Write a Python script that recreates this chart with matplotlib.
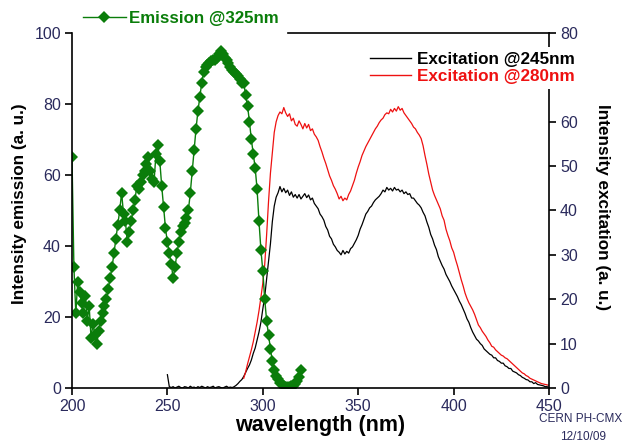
import numpy as np
import matplotlib
matplotlib.use("Agg")
import matplotlib.pyplot as plt
from matplotlib.lines import Line2D

plt.rcParams['font.family'] = ['Liberation Sans', 'DejaVu Sans']

# --- emission spectrum (left axis), excitation at 325 nm ---
em_wl = np.arange(200, 321, 1)
em_val = [65, 34, 21, 30, 27, 24, 21, 26, 19, 23,
          14, 18, 15, 12.5, 16, 19, 21, 23, 25, 28,
          31, 34, 38, 42, 46, 50, 55, 49, 47, 41,
          44, 47, 50, 53, 57, 56, 58, 60, 61, 63,
          65, 61, 59, 58, 66, 68.5, 64, 57, 51, 45,
          41, 38, 35, 31, 34, 38, 41, 44, 45.5, 46.5,
          48, 50, 55, 61, 67, 73, 78, 82, 86, 89,
          90.5, 91, 91.5, 92, 92.5, 92.5, 93, 94, 95, 94,
          93, 92.5, 91.5, 90.5, 89.5, 89, 88.5, 88, 87, 86,
          86, 82.5, 79.5, 75, 70, 66, 62, 56, 47, 39,
          33, 25, 19, 15, 11, 7.5, 5, 3.5, 2.5, 1.5,
          1, 0.6, 0.4, 0.3, 0.4, 0.5, 0.7, 1, 2, 3, 5]

# --- excitation spectrum monitored at 245 nm (right axis) ---
ex245_wl = np.arange(250, 451, 1)
ex245_val = [3.0, 0.3, 0.1, 0.3, 0.0, 0.2, 0.4, 0.1, 0.0, 0.3,
             0.2, 0.0, 0.4, 0.1, 0.2, 0.0, 0.3, 0.1, 0.4, 0.2,
             0.0, 0.3, 0.1, 0.2, 0.4, 0.0, 0.2, 0.3, 0.1, 0.0,
             0.2, 0.4, 0.1, 0.2, 0.1, 0.3, 0.6, 1.0, 1.5, 1.9,
             2.6, 3.5, 4.4, 5.2, 6.3, 7.8, 9.0, 10.8, 12.6, 14.8,
             17.8, 20.6, 24.5, 28.5, 32.5, 37.5, 41.0, 43.0, 44.0, 45.4,
             44.2, 45.0, 44.0, 44.6, 43.4, 44.2, 43.0, 43.6, 42.8, 43.6,
             42.6, 43.2, 43.8, 42.9, 43.5, 42.4, 42.8, 41.6, 41.0, 40.4,
             39.2, 38.6, 37.8, 36.4, 35.6, 34.2, 33.6, 32.4, 31.8, 31.0,
             30.6, 30.0, 31.0, 30.2, 30.8, 30.4, 31.4, 31.8, 32.6, 33.4,
             34.4, 35.8, 36.8, 38.0, 39.2, 39.8, 40.6, 41.0, 41.8, 42.4,
             42.8, 43.2, 43.8, 44.6, 44.2, 45.2, 44.6, 45.0, 44.4, 45.2,
             44.6, 44.8, 44.2, 44.6, 43.8, 44.2, 43.6, 43.8, 42.8, 42.8,
             42.2, 41.6, 41.2, 40.6, 39.6, 38.8, 37.4, 36.2, 34.6, 33.6,
             32.2, 31.2, 29.6, 28.6, 27.6, 26.8, 25.6, 24.8, 24.0, 23.0,
             22.2, 21.4, 20.6, 19.6, 18.8, 17.8, 16.8, 15.6, 14.8, 13.6,
             12.6, 11.8, 11.0, 10.6, 10.0, 9.6, 8.8, 8.4, 8.0, 7.6,
             7.4, 6.8, 6.8, 6.2, 6.0, 5.6, 5.6, 5.0, 4.8, 4.4,
             4.4, 3.8, 3.6, 3.4, 3.0, 2.8, 2.4, 2.2, 1.9, 1.8,
             1.4, 1.4, 1.0, 1.2, 0.8, 0.7, 0.6, 0.5, 0.3, 0.3, 0.1]

# --- excitation spectrum monitored at 280 nm (right axis) ---
ex280_wl = np.arange(290, 451, 1)
ex280_val = [2.2, 3.6, 5.4, 7.0, 8.6, 10.4, 12.6, 14.8, 17.4, 20.4,
             23.6, 27.8, 34.5, 42.0, 48.4, 53.0, 57.6, 60.0, 61.4, 62.2,
             61.8, 63.2, 62.0, 61.2, 61.8, 60.2, 60.8, 59.4, 59.0, 60.2,
             59.4, 58.4, 59.6, 58.6, 59.4, 58.0, 58.4, 57.2, 56.6, 55.8,
             54.4, 53.2, 51.8, 50.6, 49.2, 47.8, 46.8, 45.6, 44.8, 43.8,
             42.6, 43.2, 42.2, 42.8, 42.4, 43.6, 44.4, 45.6, 46.8, 48.4,
             49.8, 51.0, 52.4, 53.4, 54.4, 55.2, 56.0, 56.8, 57.6, 58.4,
             59.0, 59.8, 60.4, 60.8, 61.6, 62.0, 61.8, 62.8, 62.2, 63.0,
             62.4, 63.4, 62.6, 63.0, 62.0, 61.4, 60.8, 60.2, 59.6, 58.8,
             58.4, 57.6, 57.0, 56.2, 54.6, 52.4, 50.4, 48.2, 46.4, 44.6,
             43.4, 42.4, 41.4, 40.4, 38.8, 37.8, 35.8, 34.4, 33.2, 31.6,
             30.6, 29.0, 27.6, 26.0, 24.4, 23.0, 21.4, 20.2, 19.2, 18.4,
             17.6, 16.6, 15.4, 14.2, 13.6, 12.8, 12.2, 11.6, 10.8, 10.2,
             9.4, 9.2, 8.6, 8.2, 7.8, 7.4, 7.2, 6.8, 6.6, 6.2,
             5.8, 5.4, 5.0, 4.6, 4.2, 3.8, 3.4, 3.2, 2.8, 2.6,
             2.2, 2.0, 1.8, 1.6, 1.4, 1.2, 1.0, 0.9, 0.8, 0.7, 0.6]

# right-axis ticks; the 70 label sits under the legend in the original
right_ticks = [0, 10, 20, 30, 40, 50, 60, 70, 80]
right_labels = ['0', '10', '20', '30', '40', '50', '60', '', '80']

tick_color = '#2a2a5c'
green = '#0a7d0a'
red = '#ee1111'

fig = plt.figure(figsize=(6.25, 4.44), dpi=100)
ax = fig.add_axes([72 / 625, 1 - 388 / 444, (549 - 72) / 625, (388 - 33) / 444])
ax2 = ax.twinx()

# excitation curves on the right axis
ax2.plot(ex245_wl, ex245_val, color='black', linewidth=0.9)
ax2.plot(ex280_wl, ex280_val, color=red, linewidth=0.9)
ax2.set_ylim(0, 80)
ax2.set_yticks(right_ticks)
ax2.set_yticklabels(right_labels)

# emission on the left axis, drawn above the excitation curves
ax.set_zorder(ax2.get_zorder() + 1)
ax.patch.set_visible(False)
ax.plot(em_wl, em_val, color=green, linewidth=1.0, marker='D', markersize=6.3,
        markeredgewidth=0)
ax.set_xlim(200, 450)
ax.set_ylim(0, 100)
ax.set_xticks(np.arange(200, 451, 50))
ax.set_yticks(np.arange(0, 101, 20))

# spines: left/bottom from ax, right/top from ax2
ax.spines['top'].set_visible(False)
ax.spines['right'].set_visible(False)
ax2.spines['left'].set_visible(False)
ax2.spines['bottom'].set_visible(False)
ax2.spines['top'].set_bounds(313, 450)
for s in list(ax.spines.values()) + list(ax2.spines.values()):
    s.set_linewidth(1.2)

ax.tick_params(axis='both', direction='out', length=5, width=1.2, labelsize=11.5,
               labelcolor=tick_color, pad=3)
ax2.tick_params(axis='y', direction='out', length=5, width=1.2, labelsize=11.5,
                labelcolor=tick_color, pad=3)

ax.set_xlabel('wavelength (nm)', fontsize=15.5, fontweight='bold')
ax.xaxis.set_label_coords(0.52, -0.076)
ax.set_ylabel('Intensity emission (a. u.)', fontsize=12.3, fontweight='bold')
ax.yaxis.set_label_coords(-0.094, 0.52)
ax2.set_ylabel('Intensity excitation (a. u.)', fontsize=12.3, fontweight='bold',
               rotation=-90)
ax2.yaxis.set_label_coords(1.128, 0.51)

# legends
em_handle = Line2D([], [], color=green, linewidth=1.0, marker='D', markersize=6.5,
                   markeredgewidth=0)
leg1 = ax.legend([em_handle], ['Emission @325nm'], loc='center left',
                 bbox_to_anchor=(79 / 625, 1 - 18 / 444), bbox_transform=fig.transFigure,
                 frameon=True, framealpha=1, facecolor='white', edgecolor='none',
                 fancybox=False, borderpad=0.25, handlelength=2.5, handletextpad=0.2,
                 prop={'weight': 'bold', 'size': 12.2}, borderaxespad=0)
for t in leg1.get_texts():
    t.set_color(green)

ex_handles = [Line2D([], [], color='black', linewidth=1.0),
              Line2D([], [], color=red, linewidth=1.0)]
leg2 = ax2.legend(ex_handles, ['Excitation @245nm', 'Excitation @280nm'],
                  loc='upper left', bbox_to_anchor=(365 / 625, 1 - 47 / 444),
                  bbox_transform=fig.transFigure, frameon=True, framealpha=1,
                  facecolor='white', edgecolor='none', fancybox=False,
                  borderpad=0.3, handlelength=2.4, handletextpad=0.35, labelspacing=0.1,
                  prop={'weight': 'bold', 'size': 12.3}, borderaxespad=0)
leg2.get_texts()[0].set_color('black')
leg2.get_texts()[1].set_color(red)

fig.text(581 / 625, 1 - 419 / 444, 'CERN PH-CMX', fontsize=8.5, color=tick_color,
         ha='center', va='center')
fig.text(583 / 625, 1 - 437 / 444, '12/10/09', fontsize=8.5, color=tick_color,
         ha='center', va='center')

fig.savefig('out.png', dpi=100)
